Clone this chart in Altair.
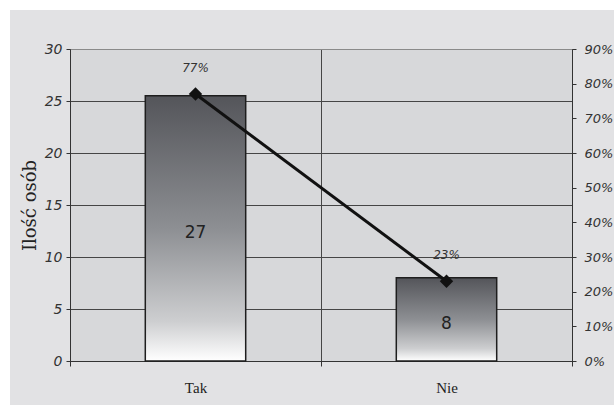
import altair as alt
import pandas as pd

categories = ["Tak", "Nie"]
bar_heights = [25.5, 8]          # drawn bar heights
count_labels = ["27", "8"]       # numbers printed in the bars
shares = [0.77, 0.23]            # line values, right axis
share_labels = ["77%", "23%"]
left_ticks = [0, 5, 10, 15, 20, 25, 30]
right_ticks = [0, 0.1, 0.2, 0.3, 0.4, 0.5, 0.6, 0.7, 0.8, 0.9]

df = pd.DataFrame({
    "cat": categories,
    "h": bar_heights,
    "cnt": count_labels,
    "share": shares,
    "slab": share_labels,
})

SANS = "DejaVu Sans"
SERIF = "DejaVu Serif"

x_scale = alt.Scale(paddingInner=0, paddingOuter=0)
x_enc = alt.X(
    "cat:N", sort=categories, scale=x_scale,
    axis=alt.Axis(
        title=None, labelAngle=0, tickBand="extent", grid=True,
        gridColor="#454545", gridOpacity=1, domainColor="#333333",
        tickColor="#333333", tickSize=5, labelPadding=14,
        labelFont="Liberation Serif", labelFontSize=15, labelColor="#222222",
    ),
)
x_plain = alt.X("cat:N", sort=categories, scale=x_scale)

y_left_scale = alt.Scale(domain=[0, 30], nice=False)
y_right_scale = alt.Scale(domain=[0, 0.9], nice=False)

gradient = alt.LinearGradient(
    gradient="linear",
    stops=[
        alt.GradientStop(color="#54555a", offset=0),
        alt.GradientStop(color="#8d8f93", offset=0.5),
        alt.GradientStop(color="#cdced0", offset=0.85),
        alt.GradientStop(color="#ffffff", offset=1),
    ],
    x1=0, x2=0, y1=0, y2=1,
)

base = alt.Chart(df)

bars = base.mark_bar(
    color=gradient, stroke="#1e1e1e", strokeWidth=1.5,
    width=alt.RelativeBandSize(0.4),
).encode(
    x=x_enc,
    y=alt.Y(
        "h:Q", scale=y_left_scale,
        axis=alt.Axis(
            values=left_ticks, title="Ilość osób", grid=True,
            gridColor={"condition": {"test": "datum.value === 30", "value": "#8a8a8a"}, "value": "#454545"},
            gridOpacity=1,
            domainColor="#333333", tickColor="#333333",
            tickSize=4, labelPadding=4, labelFont=SANS, labelFontStyle="italic",
            labelFontSize=14, labelColor="#333333",
            titleFont=SERIF, titleFontSize=18, titleFontWeight="normal",
            titleColor="#222222", titlePadding=5,
        ),
    ),
)

bar_text = base.transform_calculate(mid="datum.h / 2").mark_text(
    font=SANS, fontSize=17, color="#222222", dy=5
).encode(
    x=x_plain,
    y=alt.Y("mid:Q", scale=y_left_scale, axis=None),
    text="cnt:N",
)

line = base.mark_line(color="#111111", strokeWidth=3).encode(
    x=x_plain,
    y=alt.Y(
        "share:Q", scale=y_right_scale,
        axis=alt.Axis(
            orient="right", values=right_ticks, format=".0%", title=None,
            grid=False, domainColor="#333333", tickColor="#333333",
            tickSize=4, labelPadding=8, labelFont=SANS, labelFontStyle="italic",
            labelFontSize=13, labelColor="#333333",
        ),
    ),
)

points = base.mark_point(shape="diamond", filled=True, size=180, color="#111111", opacity=1).encode(
    x=x_plain,
    y=alt.Y("share:Q", scale=y_right_scale, axis=None),
)

share_text = base.mark_text(
    font=SANS, fontSize=12, fontStyle="italic", color="#333333", dy=-26
).encode(
    x=x_plain,
    y=alt.Y("share:Q", scale=y_right_scale, axis=None),
    text="slab:N",
)

# white page margin strips (decoration, not data)
frame = pd.DataFrame({"k": [0]})
top_strip = alt.Chart(frame).mark_rect(color="white").encode(
    x=alt.value(-70), x2=alt.value(544), y=alt.value(-49), y2=alt.value(-39)
)
left_strip = alt.Chart(frame).mark_rect(color="white").encode(
    x=alt.value(-70), x2=alt.value(-60), y=alt.value(-49), y2=alt.value(356)
)

chart = alt.layer(bars, bar_text, line, points, share_text, top_strip, left_strip).resolve_scale(
    y="independent"
).properties(
    width=502, height=312,
    autosize=alt.AutoSizeParams(type="none"),
    padding={"left": 70, "top": 49, "right": 42, "bottom": 44},
).configure(
    background="#e2e2e4"
).configure_view(
    fill="#d7d8da", stroke="#8a8a8a", strokeWidth=1
)

chart.save("out.html", embed_options={"renderer": "svg", "actions": False})
